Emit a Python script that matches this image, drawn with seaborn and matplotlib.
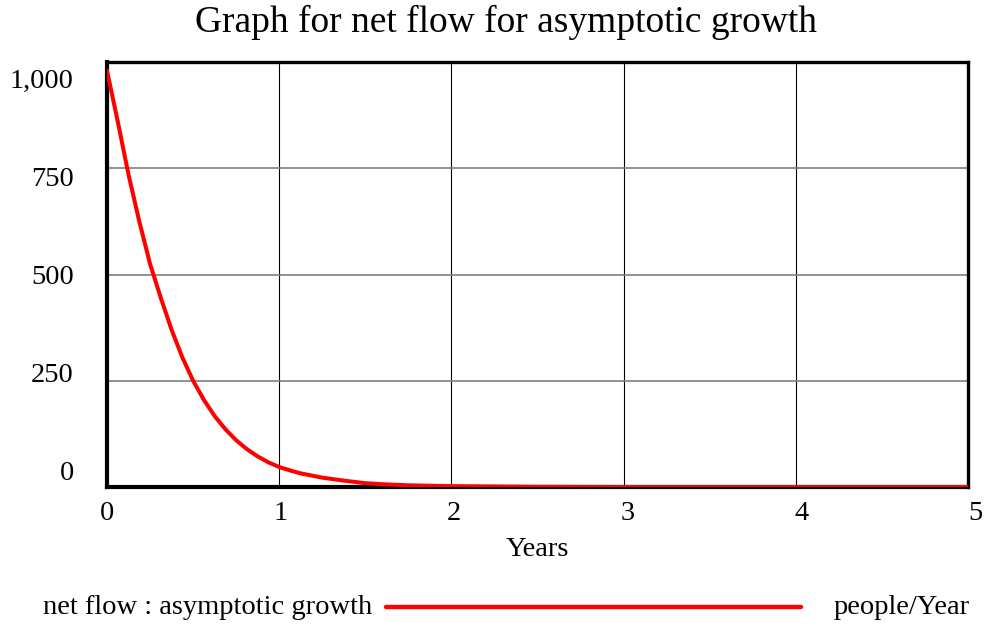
import matplotlib
matplotlib.use("Agg")
import matplotlib.pyplot as plt
import matplotlib.transforms as mtransforms
from matplotlib.lines import Line2D
import seaborn as sns
import pandas as pd

# ---- data ----
years = [0, 0.0625, 0.125, 0.1875, 0.25, 0.3125, 0.375, 0.4375, 0.5, 0.5625, 0.625,
         0.6875, 0.75, 0.8125, 0.875, 0.9375, 1.0, 1.0625, 1.125, 1.25, 1.375, 1.5,
         1.625, 1.75, 2.0, 2.5, 3.0, 4.0, 5.0]
net_flow = [980, 860, 735, 625, 525, 445, 370, 305, 250, 205, 167,
            136, 110, 89, 72, 58, 47, 39, 32, 22, 15, 9,
            6, 4, 2, 0.5, 0, 0, 0]
x_ticks = [0, 1, 2, 3, 4, 5]
y_ticks = [0, 250, 500, 750, 1000]
y_tick_labels = ["0", "250", "500", "750", "1,000"]
title = "Graph for net flow for asymptotic growth"
x_label = "Years"
series_name = "net flow : asymptotic growth"
units = "people/Year"

df = pd.DataFrame({"Years": years, "net flow": net_flow})

sns.set_theme(style="white")
plt.rcParams["font.family"] = ["Liberation Serif", "DejaVu Serif"]

DPI = 100
fig = plt.figure(figsize=(9.84, 6.27), dpi=DPI)
ax = fig.add_axes([107 / 984, 1 - 487 / 627, (968 - 107) / 984, (487 - 62) / 627])

sns.lineplot(data=df, x="Years", y="net flow", ax=ax, color="#ff0000", linewidth=2.9, zorder=5)

ax.set_xlim(0, 5)
ax.set_ylim(0, 1000)
ax.set_xticks(x_ticks)
ax.set_xticklabels([str(v) for v in x_ticks])
ax.set_yticks(y_ticks)
ax.set_yticklabels(y_tick_labels)
ax.tick_params(axis="both", length=0, labelsize=20.5, colors="black")
ax.tick_params(axis="y", pad=24)
ax.tick_params(axis="x", pad=10)

# Vensim-style label placement (labels spread slightly inside the frame)
for v, lab in zip(y_ticks, ax.get_yticklabels()):
    dy = (500 - v) / 500 * 16.5 / DPI
    lab.set_transform(lab.get_transform() + mtransforms.ScaledTranslation(0, dy, fig.dpi_scale_trans))
for v, lab in zip(x_ticks, ax.get_xticklabels()):
    dx = v * 1.4 / DPI
    lab.set_transform(lab.get_transform() + mtransforms.ScaledTranslation(dx, 0, fig.dpi_scale_trans))

ax.xaxis.grid(True, color="black", linewidth=0.8)
ax.yaxis.grid(True, color="#7f7f7f", linewidth=1.2)
ax.set_axisbelow(True)
for side in ["left", "bottom"]:
    ax.spines[side].set_linewidth(3.0)
for side in ["top", "right"]:
    ax.spines[side].set_linewidth(2.4)
for s in ax.spines.values():
    s.set_color("black")
    s.set_visible(True)

ax.set_xlabel(x_label, fontsize=20.5, color="black", labelpad=8)
ax.set_ylabel("")
fig.text(0.5145, 1 - 22 / 627, title, ha="center", va="center", fontsize=27, color="black")

# bottom legend
ly = 1 - 607 / 627
fig.text(43 / 984, ly, series_name, ha="left", va="center", fontsize=20.5, color="black")
fig.add_artist(Line2D([386 / 984, 801 / 984], [ly, ly], color="#ff0000", linewidth=3.2,
                      transform=fig.transFigure))
fig.text(970 / 984, ly, units, ha="right", va="center", fontsize=20.5, color="black")

fig.savefig("out.png", dpi=DPI, facecolor="white")
